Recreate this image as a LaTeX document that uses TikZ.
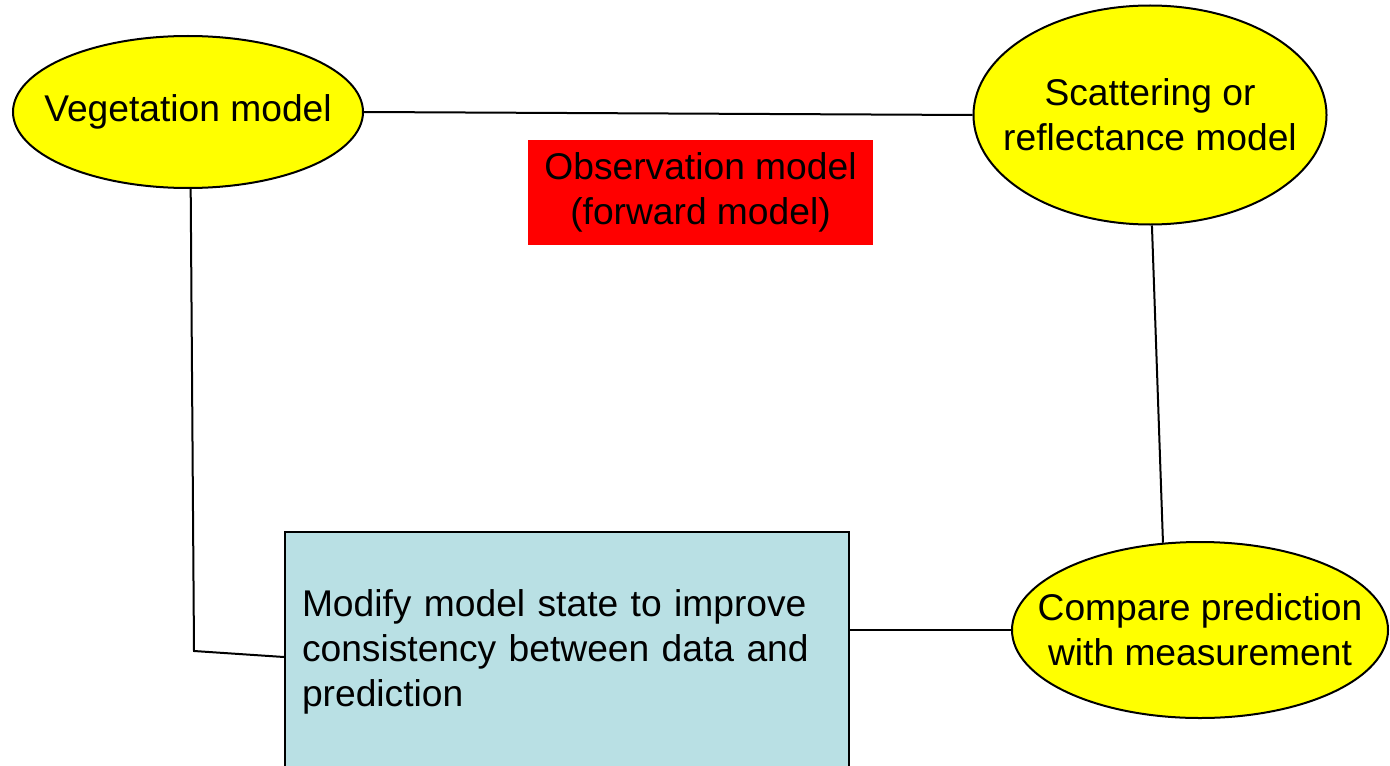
\documentclass[tikz,border=0pt]{standalone}
\usepackage{fontspec}
\setmainfont{Liberation Sans}
\usetikzlibrary{shapes.geometric,calc}
\definecolor{ovalyellow}{RGB}{255,255,0}
\definecolor{tagred}{RGB}{255,0,0}
\definecolor{panelblue}{RGB}{185,224,228}
\begin{document}
\begin{tikzpicture}[x=0.5pt,y=-0.5pt,
  txt/.style={font=\fontsize{18.6}{22.5}\selectfont},
  oval/.style={ellipse, draw=black, line width=1pt, fill=ovalyellow,
    inner xsep=-45pt, inner ysep=-25pt, align=center, txt},
  link/.style={draw=black, line width=1pt}]
\useasboundingbox (0,0) rectangle (1390,765);
\clip (0,0) rectangle (1390,765);
\fill[white] (0,0) rectangle (1390,765);

% model components
\node[oval, minimum width=175pt, minimum height=76pt] (veg) at (188,112) {Vegetation model};
\node[oval, minimum width=176.5pt, minimum height=109.5pt] (scat) at (1150,115) {Scattering or\\reflectance model};
\node[oval, minimum width=188pt, minimum height=88pt] (comp) at (1200,630) {Compare prediction\\with measurement};

% label of the forward part
\node[fill=tagred, minimum width=172.5pt, minimum height=52.5pt, inner sep=0pt, align=center, txt]
  (obs) at (700.5,192.5) {Observation model\\(forward model)};

% update step
\node[draw=black, line width=1pt, fill=panelblue, text width=265pt, inner xsep=8.5pt,
  minimum height=120pt, align=left, txt] (mod) at (567,652)
  {Modify model state to improve consistency between data and prediction};

% connectors
\coordinate (bend) at (194,651);
\draw[link] (veg.east) -- (scat.west);
\draw[link] (scat.-89) -- (comp.113);
\draw[link] (mod.east |- comp.west) -- (comp.west);
\draw[link] (veg.-88) -- (bend) -- ($(mod.west)+(0,5)$);
\end{tikzpicture}
\end{document}
